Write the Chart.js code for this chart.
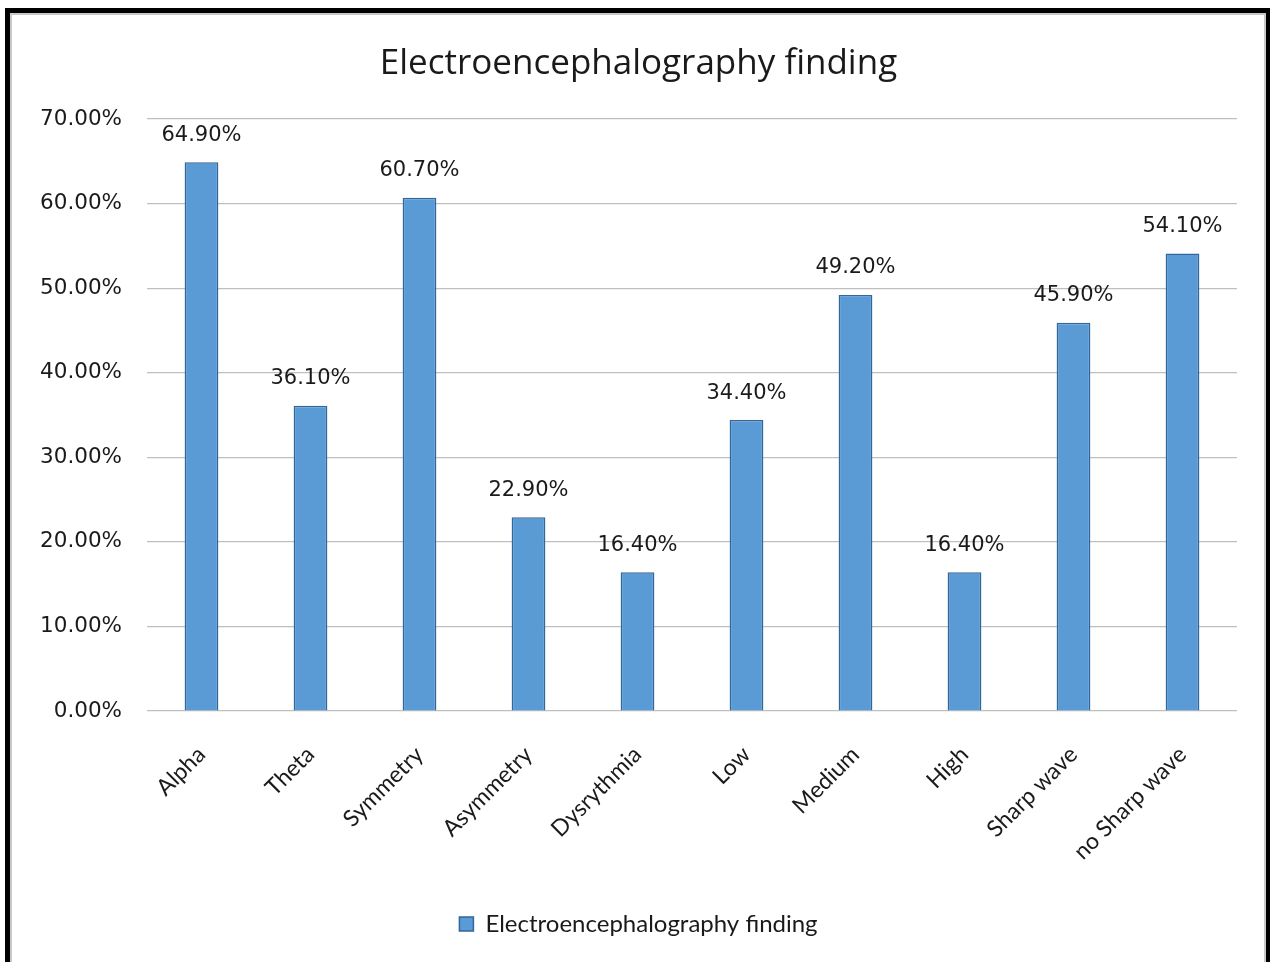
<!DOCTYPE html>
<html>
<head>
<meta charset="utf-8">
<script src="https://cdn.jsdelivr.net/npm/chart.js@4.4.1/dist/chart.umd.min.js"></script>
<style>
  html, body { margin: 0; padding: 0; background: #fff; }
  #wrap { position: relative; width: 1270px; height: 962px; }
  #frame {
    position: absolute; left: 5px; top: 8px; width: 1256px; height: 960px;
    border-left: 5px solid #000; border-top: 5px solid #000; border-right: 4px solid #000;
    box-shadow: inset 2px 2px 0 #c8c8c8, inset -2px 0 0 #c8c8c8;
    pointer-events: none;
  }
  canvas { position: absolute; left: 0; top: 0; }
</style>
</head>
<body>
<div id="wrap">
  <canvas id="eegChart" width="1270" height="962"></canvas>
  <div id="frame"></div>
</div>
<script>
const categories = ["Alpha", "Theta", "Symmetry", "Asymmetry", "Dysrythmia", "Low", "Medium", "High", "Sharp wave", "no Sharp wave"];
const percentages = [64.9, 36.1, 60.7, 22.9, 16.4, 34.4, 49.2, 16.4, 45.9, 54.1];
const yTicks = [0, 10, 20, 30, 40, 50, 60, 70];
const seriesName = "Electroencephalography finding";

// values over the bars
const valueLabels = {
  id: 'valueLabels',
  afterDatasetsDraw(chart) {
    const ctx = chart.ctx;
    const meta = chart.getDatasetMeta(0);
    ctx.save();
    ctx.font = '21px "DejaVu Sans"';
    ctx.fillStyle = '#1a1a1a';
    ctx.textAlign = 'center';
    ctx.textBaseline = 'middle';
    meta.data.forEach((bar, i) => {
      ctx.fillText(percentages[i].toFixed(2) + '%', bar.x, bar.y - 27);
    });
    ctx.restore();
  }
};

const ctx = document.getElementById('eegChart').getContext('2d');

new Chart(ctx, {
  type: 'bar',
  data: {
    labels: categories,
    datasets: [{
      label: seriesName,
      data: percentages,
      backgroundColor: '#5b9bd5',
      borderColor: '#336699',
      borderWidth: 1.5,
      categoryPercentage: 1,
      barPercentage: 0.31
    }]
  },
  options: {
    responsive: false,
    animation: false,
    layout: { padding: { top: 26, right: 33, bottom: 16, left: 40 } },
    plugins: {
      title: {
        display: true,
        text: seriesName,
        color: '#1a1a1a',
        font: { family: 'Open Sans', size: 35, weight: 'normal' },
        padding: { top: 17, bottom: 34 }
      },
      legend: {
        position: 'bottom',
        labels: {
          color: '#1a1a1a',
          font: { family: 'Lato', size: 24 },
          boxWidth: 14,
          boxHeight: 14,
          padding: 10
        }
      },
      tooltip: { enabled: false }
    },
    scales: {
      x: {
        grid: { display: false },
        border: { display: false },
        ticks: {
          color: '#1a1a1a',
          font: { family: 'Lato', size: 23 },
          minRotation: 45,
          maxRotation: 45,
          autoSkip: false,
          padding: 22
        },
        afterFit(scale) { scale.height = 191; }
      },
      y: {
        min: 0,
        max: 70,
        border: { display: false },
        grid: { color: '#bfbfbf', lineWidth: 1.2, drawTicks: false },
        afterBuildTicks(scale) { scale.ticks = yTicks.map(v => ({ value: v })); },
        ticks: {
          color: '#1a1a1a',
          font: { family: 'DejaVu Sans', size: 21.5 },
          padding: 25,
          callback: v => v.toFixed(2) + '%'
        },
        afterFit(scale) { scale.width = 107; }
      }
    }
  },
  plugins: [valueLabels]
});
</script>
</body>
</html>
